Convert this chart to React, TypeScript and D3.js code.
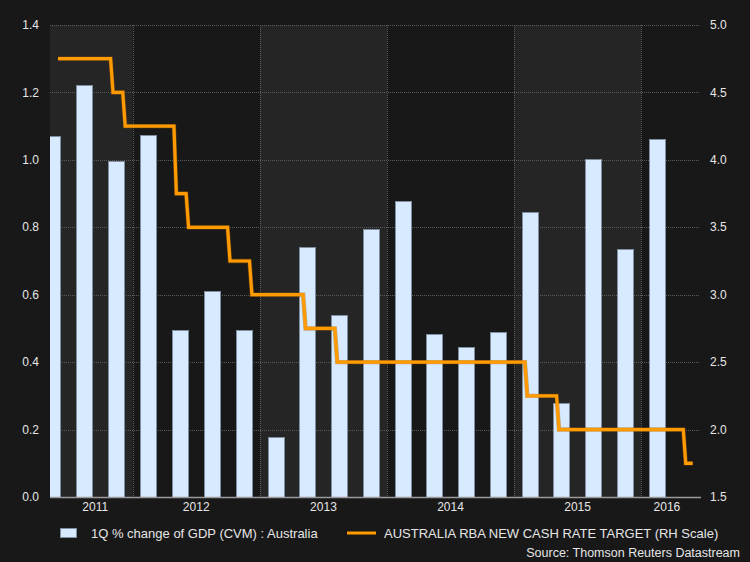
import React from "react";
import * as d3 from "d3";

// Quarterly GDP (bars centred mid-quarter)
const quarterDates = [
  "2011-05-15", "2011-08-15", "2011-11-15", "2012-02-15", "2012-05-15",
  "2012-08-15", "2012-11-15", "2013-02-15", "2013-05-15", "2013-08-15",
  "2013-11-15", "2014-02-15", "2014-05-15", "2014-08-15", "2014-11-15",
  "2015-02-15", "2015-05-15", "2015-08-15", "2015-11-15", "2016-02-15",
];
const gdpChange = [
  1.07, 1.222, 0.998, 1.074, 0.495, 0.611, 0.495, 0.178, 0.741, 0.541,
  0.795, 0.879, 0.483, 0.446, 0.49, 0.845, 0.28, 1.003, 0.735, 1.061,
];

// RBA cash rate target: change dates and new values
const rateDates = [
  "2011-06-01", "2011-11-02", "2011-12-07", "2012-05-02", "2012-06-06",
  "2012-10-03", "2012-12-05", "2013-05-08", "2013-08-07", "2015-02-04",
  "2015-05-06", "2016-05-04",
];
const rateValues = [4.75, 4.5, 4.25, 3.75, 3.5, 3.25, 3.0, 2.75, 2.5, 2.25, 2.0, 1.75];
const rateEndDate = "2016-05-28";

const leftTicks = [0, 0.2, 0.4, 0.6, 0.8, 1.0, 1.2, 1.4];
const rightTicks = [1.5, 2.0, 2.5, 3.0, 3.5, 4.0, 4.5, 5.0];
const years = [2011, 2012, 2013, 2014, 2015, 2016];

const legendBars = "1Q % change of GDP (CVM) : Australia";
const legendLine = "AUSTRALIA RBA NEW CASH RATE TARGET (RH Scale)";
const sourceText = "Source: Thomson Reuters Datastream";

const W = 750;
const H = 562;
const L = 50;
const R = 700;
const T = 25;
const B = 497;
const FONT = "'Liberation Sans', Arial, Helvetica, sans-serif";
const TXT = "#e6e6e6";

export default function App() {
  const parse = d3.timeParse("%Y-%m-%d");
  const x = d3
    .scaleTime()
    .domain([parse("2011-05-09")!, parse("2016-06-18")!])
    .range([L, R]);
  const yL = d3.scaleLinear().domain([0, 1.4]).range([B, T]);
  const yR = d3.scaleLinear().domain([1.5, 5.0]).range([B, T]);

  const barW = 16;

  // step line points
  const pts: [Date, number][] = [];
  const start = parse(rateDates[0])!;
  pts.push([start, rateValues[0]]);
  for (let i = 1; i < rateDates.length; i++) {
    const d = parse(rateDates[i])!;
    pts.push([d3.timeDay.offset(d, -3), rateValues[i - 1]]);
    pts.push([d3.timeDay.offset(d, 4), rateValues[i]]);
  }
  const end = parse(rateEndDate)!;
  pts.push([end, rateValues[rateValues.length - 1]]);

  const line = d3
    .line<[Date, number]>()
    .x((d) => x(d[0]))
    .y((d) => yR(d[1]));

  const yearStart = (y: number) => new Date(y, 0, 1);
  const bands = years.map((yr, i) => {
    const x0 = Math.max(L, x(yearStart(yr)));
    const x1 = Math.min(R, x(yearStart(yr + 1)));
    const lx0 = Math.max(x(start), x(yearStart(yr)));
    const lx1 = Math.min(x(end), x(yearStart(yr + 1)));
    return { yr, x0, x1, shaded: i % 2 === 0, lx: (lx0 + lx1) / 2 };
  });

  return (
    <svg
      width={W}
      height={H}
      style={{ position: "absolute", left: 0, top: 0, display: "block" }}
    >
      <defs>
        <clipPath id="plot">
          <rect x={L} y={T} width={R - L} height={B - T} />
        </clipPath>
      </defs>
      <rect x={0} y={0} width={W} height={H} fill="#181818" />
      {bands
        .filter((b) => b.shaded)
        .map((b) => (
          <rect key={b.yr} x={b.x0} y={T} width={b.x1 - b.x0} height={B - T} fill="#252525" />
        ))}
      {/* horizontal grid */}
      {leftTicks
        .filter((t) => t > 0)
        .map((t) => (
          <line
            key={"h" + t}
            x1={L}
            x2={R}
            y1={Math.round(yL(t)) + 0.5}
            y2={Math.round(yL(t)) + 0.5}
            stroke="#5a5a5a"
            strokeDasharray="1 1"
          />
        ))}
      {/* vertical grid */}
      {years.slice(1).map((yr) => {
        const xx = Math.round(x(yearStart(yr))) + 0.5;
        return (
          <line
            key={"v" + yr}
            x1={xx}
            x2={xx}
            y1={T}
            y2={B}
            stroke="#5a5a5a"
            strokeDasharray="1 1"
          />
        );
      })}
      {/* bars */}
      <g clipPath="url(#plot)">
        {quarterDates.map((q, i) => {
          const cx = x(parse(q)!);
          const top = yL(gdpChange[i]);
          return (
            <rect
              key={q}
              x={Math.round(cx - barW / 2) + 0.5}
              y={Math.round(top) + 0.5}
              width={barW}
              height={B - Math.round(top)}
              fill="#d8eaff"
              stroke="#7f8fa0"
              strokeWidth={1}
            />
          );
        })}
      </g>
      {/* axis line */}
      <line x1={L} x2={R + 1} y1={B + 0.5} y2={B + 0.5} stroke="#9a9a9a" strokeWidth={1.5} />
      {/* rate line */}
      <path
        d={line(pts) || ""}
        fill="none"
        stroke="#a86400"
        strokeOpacity={0.5}
        strokeWidth={4.4}
        strokeLinejoin="miter"
      />
      <path
        d={line(pts) || ""}
        fill="none"
        stroke="#ff9a00"
        strokeWidth={3.2}
        strokeLinejoin="miter"
      />
      {/* left ticks */}
      {leftTicks.map((t) => (
        <text
          key={"l" + t}
          x={39}
          y={yL(t)}
          dy="0.35em"
          textAnchor="end"
          fontFamily={FONT}
          fontSize={12}
          fill={TXT}
        >
          {t.toFixed(1)}
        </text>
      ))}
      {/* right ticks */}
      {rightTicks.map((t) => (
        <text
          key={"r" + t}
          x={710}
          y={yR(t)}
          dy="0.35em"
          textAnchor="start"
          fontFamily={FONT}
          fontSize={12}
          fill={TXT}
        >
          {t.toFixed(1)}
        </text>
      ))}
      {/* year labels */}
      {bands.map((b) => (
        <text
          key={"y" + b.yr}
          x={b.lx}
          y={511}
          textAnchor="middle"
          fontFamily={FONT}
          fontSize={12}
          fill={TXT}
        >
          {b.yr}
        </text>
      ))}
      {/* legend */}
      <rect x={60.5} y={528.5} width={16} height={9} fill="#d8eaff" stroke="#7f8fa0" />
      <text x={91} y={538} fontFamily={FONT} fontSize={13} fill={TXT}>
        {legendBars}
      </text>
      <line x1={347} x2={376} y1={533} y2={533} stroke="#ff9a00" strokeWidth={3} />
      <text x={384} y={538} fontFamily={FONT} fontSize={13} fill={TXT}>
        {legendLine}
      </text>
      <text x={740} y={556.5} textAnchor="end" fontFamily={FONT} fontSize={12.5} fill={TXT}>
        {sourceText}
      </text>
    </svg>
  );
}
